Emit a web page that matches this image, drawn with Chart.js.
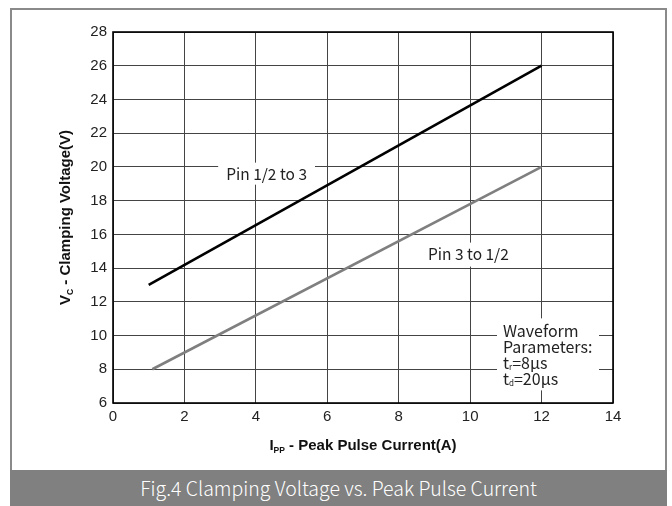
<!DOCTYPE html>
<html>
<head>
<meta charset="utf-8">
<script src="https://cdn.jsdelivr.net/npm/chart.js@4.4.1/dist/chart.umd.min.js"></script>
<style>
  html,body{margin:0;padding:0;background:#fff;}
  #wrap{position:relative;width:672px;height:506px;overflow:hidden;}
  #frame{position:absolute;left:10px;top:8px;width:653px;height:500px;border:2px solid #8a8a8a;box-sizing:content-box;}
  #cap{position:absolute;left:10px;top:470px;width:657px;height:36px;background:#808080;color:#fff;
       font-family:"Noto Sans CJK SC","Noto Sans",sans-serif;font-weight:300;font-size:19.5px;line-height:35px;text-align:center;}
  #c{position:absolute;left:0;top:0;}
</style>
</head>
<body>
<div id="wrap">
  <div id="frame"></div>
  <canvas id="c" width="672" height="470"></canvas>
  <div id="cap">Fig.4 Clamping Voltage vs. Peak Pulse Current</div>
</div>
<script>
// ---- data ----
const xTicks = [0, 2, 4, 6, 8, 10, 12, 14];
const yTicks = [6, 8, 10, 12, 14, 16, 18, 20, 22, 24, 26, 28];
const pin12to3X = [1, 12];
const pin12to3Y = [13, 26];
const pin3to12X = [1.1, 12];
const pin3to12Y = [8, 20];
const seriesNames = ["Pin 1/2 to 3", "Pin 3 to 1/2"];
const waveformLines = ["Waveform", "Parameters:", ["t", "r", "=8µs"], ["t", "d", "=20µs"]];
const yTitle = ["V", "C", " - Clamping Voltage(V)"];
const xTitle = ["I", "PP", " - Peak Pulse Current(A)"];

const narrow = "'Liberation Sans Narrow','Arial Narrow','Liberation Sans',Arial,sans-serif";
const annFont = "'Noto Sans CJK SC','Noto Sans',sans-serif";

function toPts(xs, ys){ return xs.map((x,i)=>({x:x, y:ys[i]})); }

function drawSub(ctx, parts, x, y, big, small, align){
  ctx.font = "bold " + big + "px " + narrow;
  const w1 = ctx.measureText(parts[0]).width;
  const w3 = ctx.measureText(parts[2]).width;
  ctx.font = "bold " + small + "px " + narrow;
  const w2 = ctx.measureText(parts[1]).width;
  const total = w1 + w2 + w3;
  let sx = align === 'center' ? x - total/2 : x;
  ctx.textAlign = 'left';
  ctx.textBaseline = 'middle';
  ctx.font = "bold " + big + "px " + narrow;
  ctx.fillText(parts[0], sx, y);
  ctx.font = "bold " + small + "px " + narrow;
  ctx.fillText(parts[1], sx + w1, y + big*0.3);
  ctx.font = "bold " + big + "px " + narrow;
  ctx.fillText(parts[2], sx + w1 + w2, y);
}

const overlay = {
  id: 'overlay',
  beforeDatasetsDraw(chart){
    const ctx = chart.ctx, xs = chart.scales.x, ys = chart.scales.y;
    ctx.save();
    ctx.fillStyle = '#fff';
    ctx.font = "15.5px " + annFont;
    const a1x = xs.getPixelForValue(4.3), a1y = ys.getPixelForValue(19.6);
    const w1 = ctx.measureText(seriesNames[0]).width;
    ctx.fillRect(a1x - w1/2 - 8, a1y - 11, w1 + 16, 22);
    const a2x = xs.getPixelForValue(9.95), a2y = ys.getPixelForValue(14.8);
    const w2 = ctx.measureText(seriesNames[1]).width;
    ctx.fillRect(a2x - w2/2 - 8, a2y - 12, w2 + 16, 24);
    const bx = xs.getPixelForValue(10.92), by = ys.getPixelForValue(10.9);
    ctx.fillRect(bx - 6, by - 2, 102, 72);
    ctx.restore();
  },
  afterDatasetsDraw(chart){
    const ctx = chart.ctx, xs = chart.scales.x, ys = chart.scales.y, ca = chart.chartArea;
    ctx.save();
    ctx.fillStyle = '#222';
    ctx.textBaseline = 'middle';
    ctx.textAlign = 'center';
    ctx.font = "15.5px " + annFont;
    ctx.fillText(seriesNames[0], xs.getPixelForValue(4.3), ys.getPixelForValue(19.6));
    ctx.fillText(seriesNames[1], xs.getPixelForValue(9.95), ys.getPixelForValue(14.8));
    const bx = xs.getPixelForValue(10.92), by = ys.getPixelForValue(10.9);
    ctx.textAlign = 'left';
    const lh = 15.7;
    waveformLines.forEach((ln, i) => {
      const yy = by + 11 + i*lh;
      if (typeof ln === 'string') {
        ctx.font = "16px " + annFont;
        ctx.fillText(ln, bx, yy);
      } else {
        ctx.font = "16px " + annFont;
        ctx.fillText(ln[0], bx, yy);
        const wa = ctx.measureText(ln[0]).width;
        ctx.font = "8px " + annFont;
        ctx.fillText(ln[1], bx + wa, yy + 4);
        const wb = ctx.measureText(ln[1]).width;
        ctx.font = "16px " + annFont;
        ctx.fillText(ln[2], bx + wa + wb, yy);
      }
    });
    ctx.strokeStyle = '#000';
    ctx.lineWidth = 1.6;
    ctx.strokeRect(ca.left, ca.top, ca.right - ca.left, ca.bottom - ca.top);
    ctx.fillStyle = '#111';
    drawSub(ctx, xTitle, (ca.left + ca.right)/2, ca.bottom + 43, 15, 8.5, 'center');
    ctx.translate(ca.left - 47, (ca.top + ca.bottom)/2);
    ctx.rotate(-Math.PI/2);
    drawSub(ctx, yTitle, 0, 0, 15, 8.5, 'center');
    ctx.restore();
  }
};

new Chart(document.getElementById('c'), {
  type: 'scatter',
  data: {
    datasets: [
      { label: seriesNames[0], data: toPts(pin12to3X, pin12to3Y), showLine: true,
        borderColor: '#000', borderWidth: 2.6, pointRadius: 0, fill: false },
      { label: seriesNames[1], data: toPts(pin3to12X, pin3to12Y), showLine: true,
        borderColor: '#7f7f7f', borderWidth: 2.6, pointRadius: 0, fill: false }
    ]
  },
  options: {
    responsive: false,
    animation: false,
    layout: { padding: { left: 0, top: 32, right: 59, bottom: 0 } },
    plugins: { legend: { display: false }, tooltip: { enabled: false } },
    scales: {
      x: {
        type: 'linear', min: 0, max: 14,
        afterBuildTicks: s => { s.ticks = xTicks.map(v => ({ value: v })); },
        afterFit: s => { s.height = 67; },
        grid: { color: '#444', lineWidth: 1, drawTicks: false },
        border: { display: false },
        ticks: { padding: 5, color: '#222', font: { family: narrow, size: 15 } }
      },
      y: {
        type: 'linear', min: 6, max: 28,
        afterBuildTicks: s => { s.ticks = yTicks.map(v => ({ value: v })); },
        afterFit: s => { s.width = 113; },
        grid: { color: '#444', lineWidth: 1, drawTicks: false },
        border: { display: false },
        ticks: { padding: 6, color: '#222', font: { family: narrow, size: 15 } }
      }
    }
  },
  plugins: [overlay]
});
</script>
</body>
</html>
